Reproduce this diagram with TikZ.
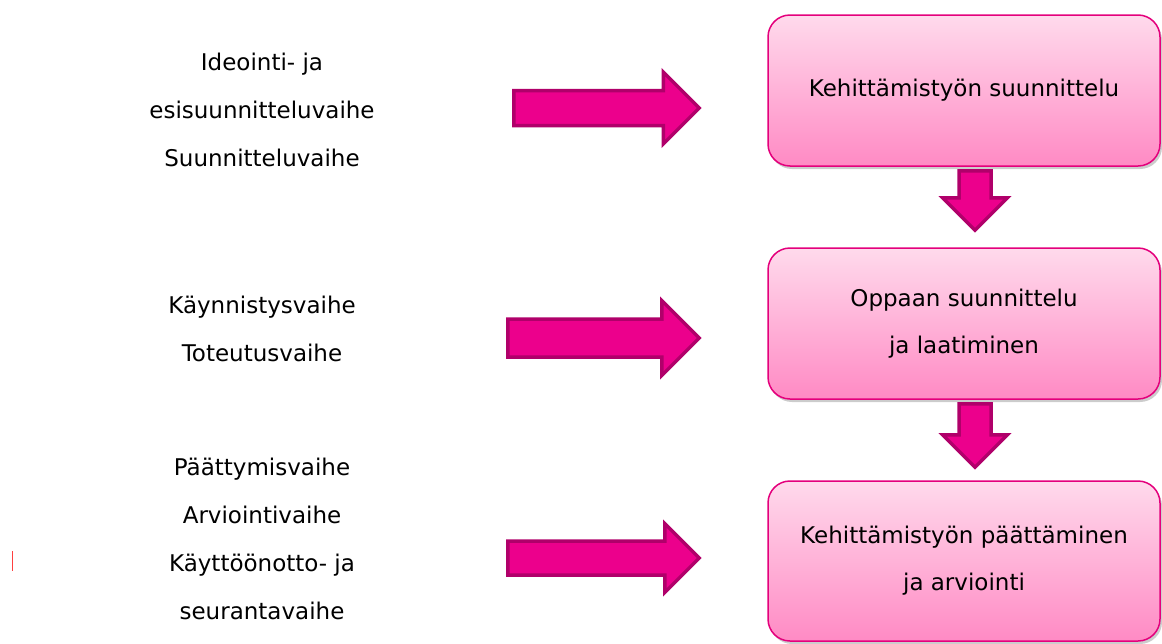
\documentclass[tikz,border=0pt]{standalone}
\usepackage{fontspec}
\setmainfont{DejaVu Sans}
\usetikzlibrary{shapes.arrows,shadows}

\definecolor{boxline}{RGB}{228,0,124}
\definecolor{boxtop}{RGB}{255,218,236}
\definecolor{boxbottom}{RGB}{255,138,196}
\definecolor{arrowfill}{RGB}{236,0,140}
\definecolor{arrowline}{RGB}{176,0,106}
\definecolor{cursor}{RGB}{255,64,64}

\begin{document}
\begin{tikzpicture}
	[ x=1pt, y=-1pt,
	  phase/.style={align=center,font=\fontsize{23}{48}\selectfont},
	  stage/.style={draw=boxline,line width=1.5pt,rounded corners=22pt,
	    top color=boxtop,bottom color=boxbottom,
	    minimum width=392pt,align=center,
	    font=\fontsize{23}{47}\selectfont,
	    drop shadow={shadow xshift=2pt,shadow yshift=-3pt,opacity=.4}},
	  fat/.style={single arrow,draw=arrowline,fill=arrowfill,line width=3.5pt,
	    single arrow head indent=0pt,anchor=tail},
	  right/.style={fat},
	  down/.style={fat,shape border rotate=270} ]

	\useasboundingbox (0,0) rectangle (1162,643);

	% vaiheet
	\node[phase] (ph1) at (262,110) {Ideointi- ja\\esisuunnitteluvaihe\\Suunnitteluvaihe};
	\node[phase] (ph2) at (262,329) {Käynnistysvaihe\\Toteutusvaihe};
	\node[phase] (ph3) at (262,539) {Päättymisvaihe\\Arviointivaihe\\Käyttöönotto- ja\\seurantavaihe};

	% laatikot
	\node[stage,minimum height=151pt] (plan) at (964,90.5) {Kehittämistyön suunnittelu};
	\node[stage,minimum height=151pt] (guide) at (964,323.5) {Oppaan suunnittelu\\ja laatiminen};
	\node[stage,minimum height=160pt] (end) at (964,561) {Kehittämistyön päättäminen\\ja arviointi};

	% nuolet
	\node[right,minimum height=185.5pt,minimum width=68.5pt,inner sep=15.75pt,single arrow head extend=18.5pt] (a1) at (512,108) {};
	\node[right,minimum height=191.5pt,minimum width=71.5pt,inner sep=17.25pt,single arrow head extend=18.5pt] (a2) at (506,338) {};
	\node[right,minimum height=191.5pt,minimum width=65.5pt,inner sep=15.25pt,single arrow head extend=17.5pt] (a3) at (506,558) {};

	\node[down,minimum height=59.5pt,minimum width=61.5pt,inner sep=14.25pt,single arrow head extend=16.5pt] (d1) at (975,169) {};
	\node[down,minimum height=63.5pt,minimum width=61.5pt,inner sep=14.25pt,single arrow head extend=16.5pt] (d2) at (975,402) {};

	\draw[cursor,line width=1.5pt] (12.5,551) -- (12.5,571);

\end{tikzpicture}
\end{document}
